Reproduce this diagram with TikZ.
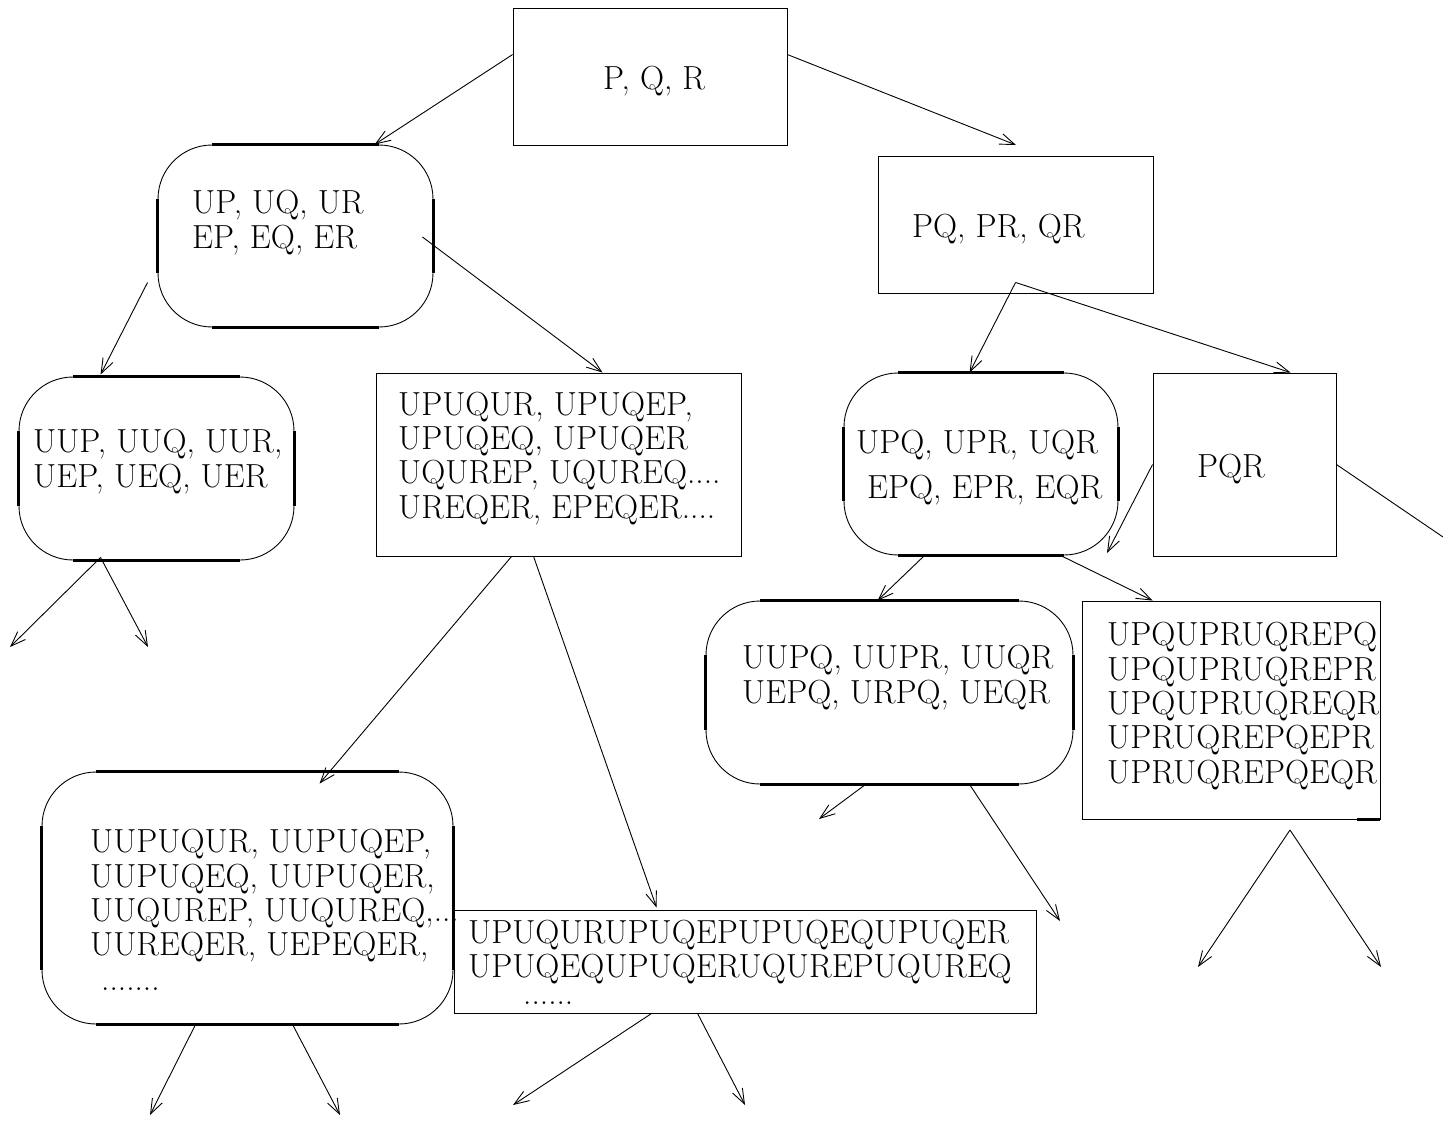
\documentclass[tikz,border=0pt]{standalone}
\usepackage{fontspec}
\usetikzlibrary{arrows.meta,calc}
\tikzset{
  box/.style={draw, line width=0.9pt, inner sep=0pt},
  rbox/.style={draw, line width=0.9pt, inner sep=0pt, rounded corners=54pt},
  thickseg/.style={line width=2.6pt},
  txt/.style={anchor=base west, align=left, inner sep=0pt, font=\fontsize{33.4}{34.3}\selectfont},
  conn/.style={line width=0.9pt, -{Straight Barb[length=15pt,width=11pt,line width=0.9pt]}},
  plain/.style={line width=0.9pt}
}
\newcommand\thickedges[1]{%
  \draw[thickseg] ([xshift=54pt]#1.north west) -- ([xshift=-54pt]#1.north east)
                  ([xshift=54pt]#1.south west) -- ([xshift=-54pt]#1.south east)
                  ([yshift=-54pt]#1.north west) -- ([yshift=54pt]#1.south west)
                  ([yshift=-54pt]#1.north east) -- ([yshift=54pt]#1.south east);}
\begin{document}
\begin{tikzpicture}[x=1pt,y=-1pt]
\useasboundingbox (0,0) rectangle (1443,1120);
% boxes
\node[box, minimum width=274pt, minimum height=137pt] (A) at (650,76.5) {};
\node[box, minimum width=275pt, minimum height=137pt] (B) at (1015.5,224.5) {};
\node[rbox, minimum width=275pt, minimum height=182pt] (C) at (295.5,236) {};
\node[rbox, minimum width=275pt, minimum height=183pt] (D) at (156.5,468.5) {};
\node[box, minimum width=365pt, minimum height=183pt] (E) at (558.5,464.5) {};
\node[rbox, minimum width=274pt, minimum height=182pt] (F) at (981,464) {};
\node[box, minimum width=183pt, minimum height=183pt] (G) at (1244.5,464.5) {};
\node[rbox, minimum width=367pt, minimum height=183pt] (H) at (889.5,692.5) {};
\node[box, minimum width=298pt, minimum height=218pt] (I) at (1231,710) {};
\node[rbox, minimum width=411pt, minimum height=252pt] (J) at (247.5,898) {};
\node[box, minimum width=582pt, minimum height=103pt] (K) at (745,961.5) {};
\thickedges{C}\thickedges{D}\thickedges{F}\thickedges{H}\thickedges{J}
\draw[thickseg] ([xshift=-23pt]I.south east) -- (I.south east);
% texts (anchor at baseline of the last line)
\node[txt] (At) at (603,89) {P, Q, R};
\node[txt] (Bt) at (912,237) {PQ, PR, QR};
\node[txt] (Ct) at (192,248) {UP, UQ, UR\\EP, EQ, ER};
\node[txt] (Dt) at (33,487) {UUP, UUQ, UUR,\\UEP, UEQ, UER};
\node[txt] (Et) at (398,518) {UPUQUR, UPUQEP,\\UPUQEQ, UPUQER\\UQUREP, UQUREQ....\\UREQER, EPEQER....};
\node[txt] (Ft) at (856,498) {UPQ, UPR, UQR\\[10.5pt]\hspace*{11pt}EPQ, EPR, EQR};
\node[txt] (Gt) at (1197,477) {PQR};
\node[txt] (Ht) at (742,703) {UUPQ, UUPR, UUQR\\UEPQ, URPQ, UEQR};
\node[txt] (It) at (1107,783) {UPQUPRUQREPQ\\UPQUPRUQREPR\\UPQUPRUQREQR\\UPRUQREPQEPR\\UPRUQREPQEQR};
\node[txt] (Jt) at (90,990) {UUPUQUR, UUPUQEP,\\UUPUQEQ, UUPUQER,\\UUQUREP, UUQUREQ,...\\UUREQER, UEPEQER,\\\hspace*{11pt}.......};
\node[txt] (Kt) at (468,1004) {UPUQURUPUQEPUPUQEQUPUQER\\UPUQEQUPUQERUQUREPUQUREQ\\[-8pt]\hspace*{55pt}......};
% free ends
\coordinate (a2) at (1016,145);
\coordinate (d1) at (10,647);
\coordinate (d2) at (148,647);
\coordinate (g1) at (1107,553);
\coordinate (g2) at (1443,537);
\coordinate (h1) at (819,819);
\coordinate (h2) at (1060,921);
\coordinate (i0) at (1290,830);
\coordinate (i1) at (1198,967);
\coordinate (i2) at (1381,967);
\coordinate (j1) at (150,1115);
\coordinate (j2) at (340,1115);
\coordinate (k1) at (513,1105);
\coordinate (k2) at (745,1105);
% connectors
\draw[conn] ($(A.north west)+(0,47)$) -- ($(C.north west)+(217,0)$);
\draw[conn] ($(A.north east)+(0,47)$) -- (a2);
\draw[conn] ($(C.east)+(-11,1)$) -- ($(E.north west)+(227,0)$);
\draw[conn] ($(C.south west)+(-10,-45)$) -- ($(D.north west)+(82,-2)$);
\draw[conn] ($(D.south west)+(82,-3)$) -- (d1);
\draw[conn] ($(D.south west)+(82,-3)$) -- (d2);
\draw[conn] ($(E.south west)+(136,0)$) -- ($(J.north west)+(278,12)$);
\draw[conn] ($(E.south west)+(158,0)$) -- ($(K.north west)+(203,-2)$);
\draw[conn] ($(B.south west)+(138,-11)$) -- ($(F.north west)+(126,0)$);
\draw[conn] ($(B.south west)+(138,-11)$) -- ($(G.north west)+(138,0)$);
\draw[conn] (G.west) -- (g1);
\draw[plain] (G.east) -- (g2);
\draw[conn] ($(F.south west)+(81,0)$) -- ($(H.north west)+(172,0)$);
\draw[conn] ($(F.south west)+(217,0)$) -- ($(I.north west)+(71,0)$);
\draw[conn] ($(H.south west)+(160,0)$) -- (h1);
\draw[conn] ($(H.south west)+(264,0)$) -- (h2);
\draw[conn] (i0) -- (i1);
\draw[conn] (i0) -- (i2);
\draw[conn] ($(J.south west)+(154,0)$) -- (j1);
\draw[conn] ($(J.south west)+(251,0)$) -- (j2);
\draw[conn] ($(K.south west)+(198,0)$) -- (k1);
\draw[conn] ($(K.south west)+(244,0)$) -- (k2);
\end{tikzpicture}
\end{document}
